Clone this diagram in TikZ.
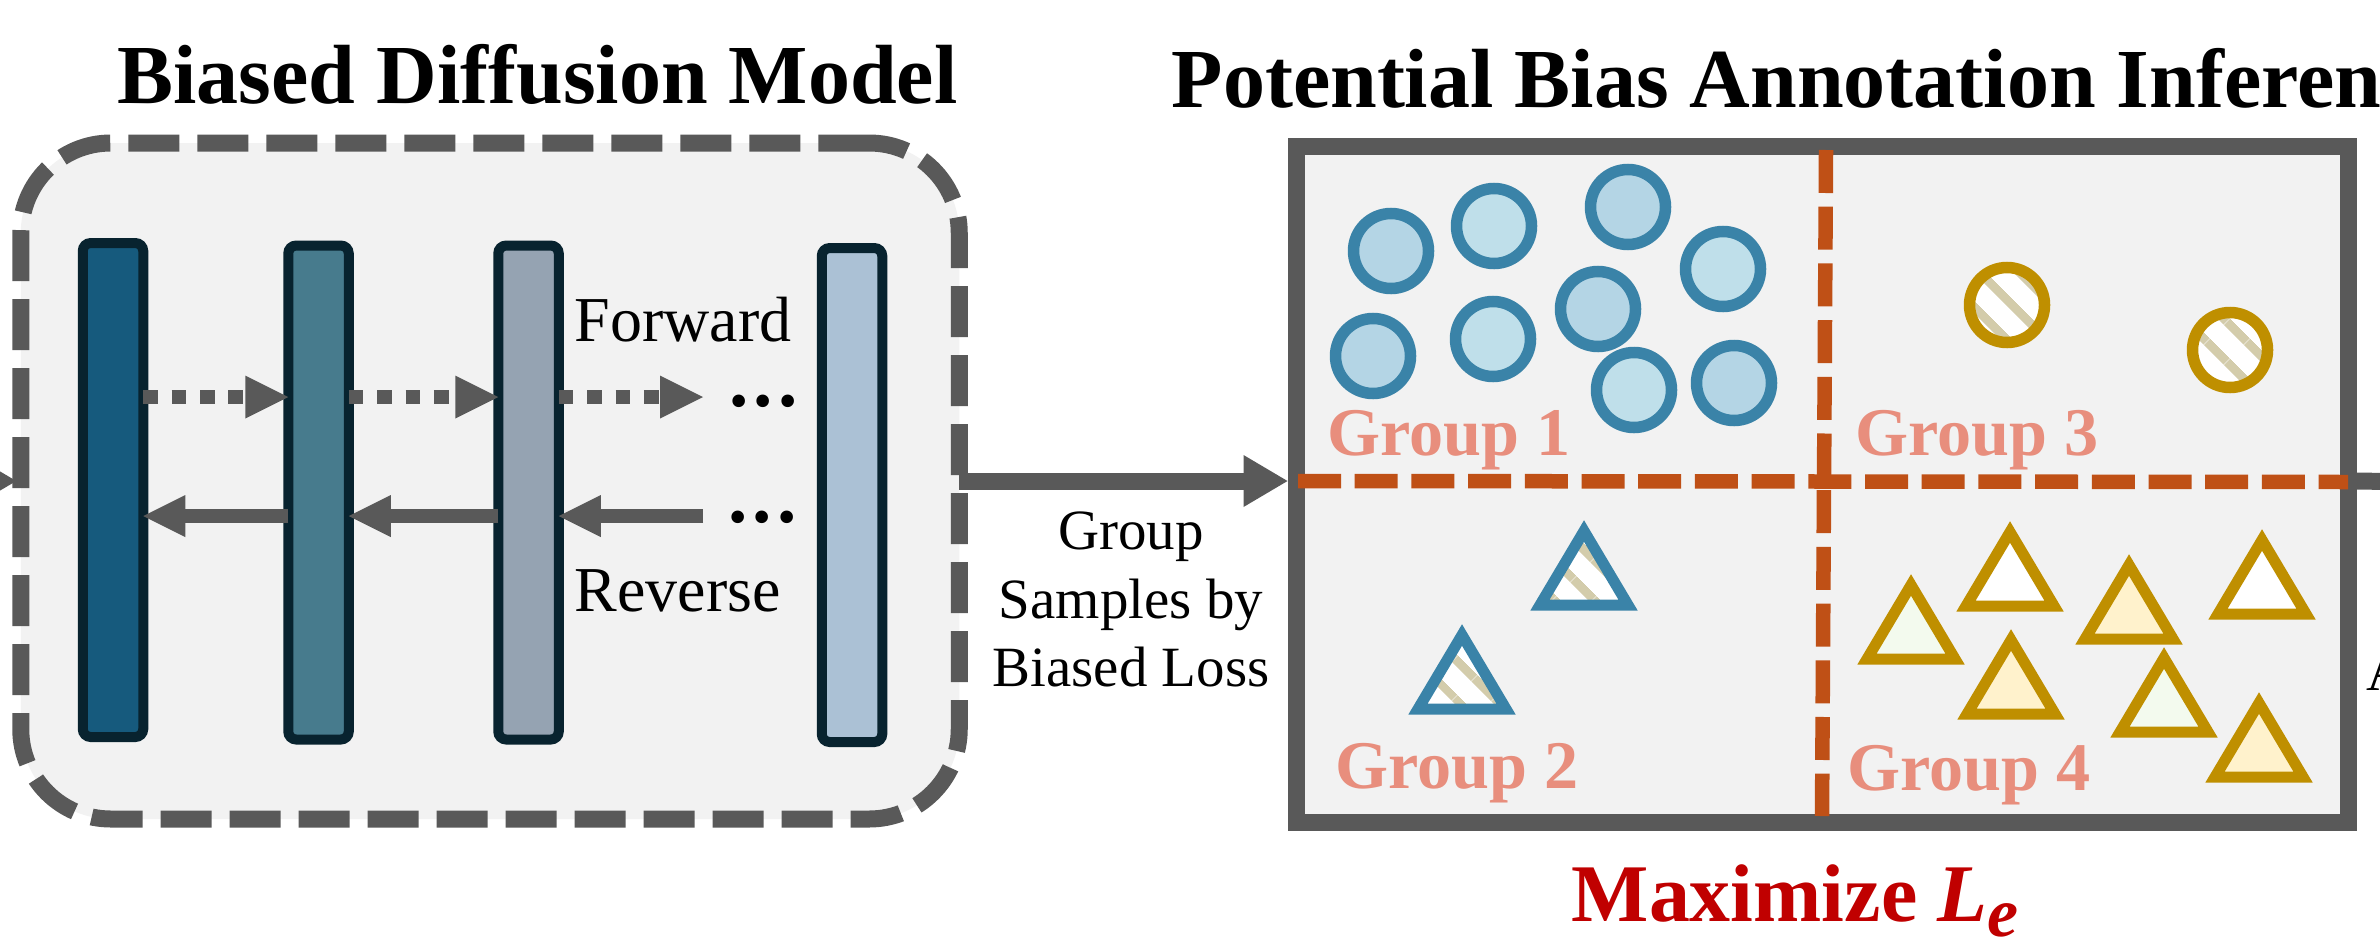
\documentclass[tikz,border=0pt]{standalone}
\usepackage{fontspec}
\setmainfont{Liberation Serif}
\usetikzlibrary{arrows.meta,patterns.meta}

\definecolor{arrowgray}{HTML}{595959}
\definecolor{panelbg}{HTML}{F2F2F2}
\definecolor{barline}{HTML}{08232F}
\definecolor{barA}{HTML}{165A7D}
\definecolor{barB}{HTML}{477B8D}
\definecolor{barC}{HTML}{95A3B2}
\definecolor{barD}{HTML}{ABC1D5}
\definecolor{dotblue}{HTML}{3A83A8}
\definecolor{dotfillA}{HTML}{B4D5E5}
\definecolor{dotfillB}{HTML}{BFDFEA}
\definecolor{gold}{HTML}{BF8F00}
\definecolor{hatchtan}{HTML}{D3CCAB}
\definecolor{palegreen}{HTML}{F3FAEE}
\definecolor{paleyellow}{HTML}{FFF2CC}
\definecolor{splitorange}{HTML}{BF5016}
\definecolor{grouppink}{HTML}{E88E7D}
\definecolor{lossred}{HTML}{C00000}

\begin{document}
\begin{tikzpicture}[x=0.1mm, y=-0.1mm,
	titletext/.style={font=\fontsize{23.9pt}{28pt}\selectfont\bfseries, inner sep=0pt},
	flowtext/.style={font=\fontsize{18.2pt}{22pt}\selectfont, inner sep=0pt, anchor=base west},
	dotstext/.style={font=\fontsize{22pt}{26pt}\selectfont\bfseries, inner sep=0pt, text height=1.5mm, text depth=0pt, anchor=base west},
	notetext/.style={font=\fontsize{16.2pt}{19.5pt}\selectfont, align=center, inner sep=0pt},
	grouplabel/.style={font=\fontsize{19.4pt}{23pt}\selectfont\bfseries, text=grouppink, inner sep=0pt, anchor=base west},
	losstext/.style={font=\fontsize{23.3pt}{28pt}\selectfont\bfseries, text=lossred, inner sep=0pt, anchor=base west},
	dashpanel/.style={draw=arrowgray, fill=panelbg, line width=1.7mm, dash pattern=on 5.1mm off 1.8mm, rounded corners=9mm, inner sep=0pt, outer sep=0pt},
	panel/.style={draw=arrowgray, fill=panelbg, line width=1.7mm, inner sep=0pt},
	bar/.style={draw=barline, line width=1mm, rounded corners=0.8mm, minimum width=6.05mm, minimum height=49.4mm, inner sep=0pt, outer sep=0pt},
	fwdarrow/.style={draw=arrowgray, line width=1.4mm, dash pattern=on 1.47mm off 1.37mm, -{Triangle[length=4.3mm, width=4.3mm, line width=0pt]}},
	revarrow/.style={draw=arrowgray, line width=1.4mm, -{Triangle[length=4.2mm, width=4.2mm, line width=0pt]}},
	grouparrow/.style={draw=arrowgray, line width=1.7mm, -{Triangle[length=4.4mm, width=5.2mm, line width=0pt]}},
	splitline/.style={draw=splitorange, line width=1.45mm, dash pattern=on 4.3mm off 1.37mm},
	blob/.style={line width=1.15mm},
	wedge/.style={line width=1.1mm, line join=miter},
	hatched/.style={preaction={fill=white}, pattern={Lines[angle=-45, distance=2.8mm, line width=0.9mm]}, pattern color=hatchtan}
]
	\useasboundingbox (0,0) rectangle (2380,946);

	% biased diffusion model
	\node[dashpanel, minimum width=93.85mm, minimum height=67.6mm] (dm) at (490,481) {};
	\coordinate (inTail) at (-80,481);
	\draw[grouparrow] (inTail) -- ([xshift=-0.45mm]dm.west);
	\node[titletext, anchor=base] (ttlDM) at (537.5,103) {Biased Diffusion Model};

	\node[bar, fill=barA] (b1) at (113,490) {};
	\node[bar, fill=barB] (b2) at (318.5,492.5) {};
	\node[bar, fill=barC] (b3) at (528.5,492.5) {};
	\node[bar, fill=barD] (b4) at (852,495) {};

	\coordinate (yF) at (0,397);
	\coordinate (yR) at (0,516);
	\coordinate (f3) at (703,397);
	\coordinate (r3) at (703,516);
	\draw[fwdarrow] (b1.east |- yF) -- (b2.west |- yF);
	\draw[fwdarrow] (b2.east |- yF) -- (b3.west |- yF);
	\draw[fwdarrow] (b3.east |- yF) -- (f3);
	\draw[revarrow] (b2.west |- yR) -- (b1.east |- yR);
	\draw[revarrow] (b3.west |- yR) -- (b2.east |- yR);
	\draw[revarrow] (r3) -- (b3.east |- yR);
	\node[dotstext] (dotsF) at (729,406) {.\hspace{0.5mm}.\hspace{0.5mm}.};
	\node[dotstext] (dotsR) at (728,522) {.\hspace{0.5mm}.\hspace{0.5mm}.};
	\node[flowtext] (fwdTxt) at (574,341) {Forward};
	\node[flowtext] (revTxt) at (574,611) {Reverse};

	% grouping step
	\node[panel, minimum width=105.2mm, minimum height=67.6mm] (pb) at (1822,484) {};
	\draw[grouparrow] (dm.east) -- (pb.west |- dm.east);
	\node[notetext, anchor=south] (grpTxt) at (1131,688) {Group\\Samples by\\Biased Loss};
	\coordinate (exitEnd) at (2420,482);
	\draw[grouparrow, -] (pb.east |- dm.east) -- (exitEnd);

	% potential bias annotation
	\draw[splitline] (1826,150) -- (1822,816);
	\draw[splitline] (1298,481) -- (2348,482);

	\foreach \x/\y/\c in {1391/251/dotfillA, 1494/226/dotfillB, 1628/207/dotfillA,
		1723/269/dotfillB, 1598/309/dotfillA, 1493/339/dotfillB, 1373/356/dotfillA,
		1634/390/dotfillB, 1734/383/dotfillA}
		\draw[blob, draw=dotblue, fill=\c] (\x,\y) circle[radius=3.75mm];
	\foreach \x/\y in {2007/305, 2230/350}
		\draw[blob, draw=gold, hatched] (\x,\y) circle[radius=3.75mm];
	\foreach \x/\y in {1584/605, 1462/709}
		\draw[wedge, draw=dotblue, hatched] (\x-44,\y) -- (\x+44,\y) -- (\x,\y-74) -- cycle;
	\foreach \x/\y/\c in {2010/606/white, 1911/659/palegreen, 2129/639/paleyellow,
		2262/614/white, 2011/714/paleyellow, 2164/732/palegreen, 2259/777/paleyellow}
		\draw[wedge, draw=gold, fill=\c] (\x-44,\y) -- (\x+44,\y) -- (\x,\y-74) -- cycle;

	\node[grouplabel] (g1) at (1327,455) {Group 1};
	\node[grouplabel] (g2) at (1335,788) {Group 2};
	\node[grouplabel] (g3) at (1855,455) {Group 3};
	\node[grouplabel] (g4) at (1847,790) {Group 4};

	\node[titletext, anchor=base west] (ttlPB) at (1171,107) {Potential Bias Annotation Inference};
	\node[losstext] (maxTxt) at (1571,921) {Maximize \textit{L}\raisebox{-1.5mm}{\fontsize{19.9pt}{22pt}\selectfont\textit{e}}};
	\node[notetext, anchor=base west] (nextTxt) at (2366,690) {A};
\end{tikzpicture}
\end{document}
